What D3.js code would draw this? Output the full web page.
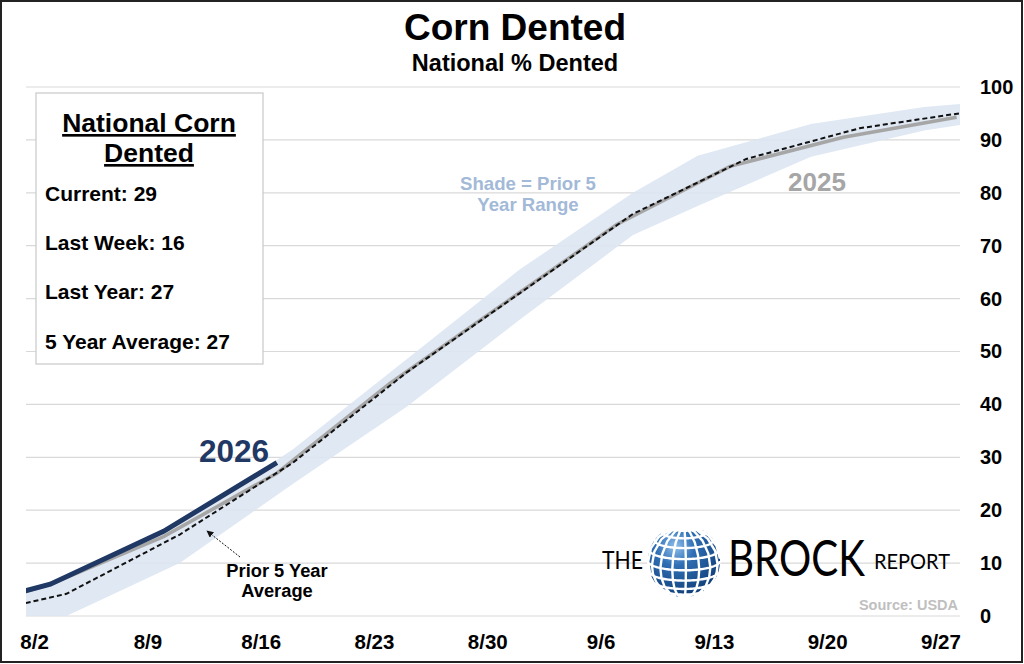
<!DOCTYPE html>
<html lang="en">
<head>
<meta charset="UTF-8">
<title>Corn Dented</title>
<script src="https://cdn.jsdelivr.net/npm/d3@7/dist/d3.min.js"></script>
<style>
  body { margin: 0; background: #fff; }
  svg text { font-family: "Liberation Sans", Arial, sans-serif; font-weight: bold; }
</style>
</head>
<body>
<svg width="1024" height="664"></svg>
<script>
// tick labels on the x axis (weekly)
var xLabels = ["8/2", "8/9", "8/16", "8/23", "8/30", "9/6", "9/13", "9/20", "9/27"];
var yTicks = [0, 10, 20, 30, 40, 50, 60, 70, 80, 90, 100];

// 2026 progress
var dates2026 = ["8/1", "8/3", "8/10", "8/17"];
var pct2026 = [4.4, 6, 16, 29];

// 2025 progress
var dates2025 = ["8/1", "8/3", "8/10", "8/17", "8/24", "8/31", "9/7", "9/14", "9/21", "9/28"];
var pct2025 = [4.2, 6, 15, 27, 44, 59, 74, 85, 90.5, 94.3];

// prior 5 year average
var datesAvg = ["8/1", "8/4", "8/11", "8/18", "8/25", "9/1", "9/8", "9/15", "9/22", "9/29"];
var pctAvg = [2.1, 4.2, 15.4, 29, 46, 61, 76, 86.4, 92.2, 95.4];

// prior 5 year range (shade)
var datesBand = ["8/1", "8/4", "8/11", "8/18", "8/25", "9/1", "9/8", "9/12", "9/19", "9/26", "9/29"];
var bandHigh = [4.5, 7.5, 17.5, 31.5, 48.5, 65.5, 80, 87, 93, 96.2, 97];
var bandLow = [0, 0, 10, 25, 39.5, 56, 72, 77.5, 86.8, 91.8, 93.2];

var summary = ["Current: 29", "Last Week: 16", "Last Year: 27", "5 Year Average: 27"];

var parse = function(s) {
    var p = s.split("/");
    return new Date(2026, +p[0] - 1, +p[1]);
};
var zip = function(ds, vs) {
    return ds.map(function(d, i) { return {date: parse(d), v: vs[i]}; });
};

var svg = d3.select("svg");
var plot = {left: 26, right: 960, top: 87, bottom: 616};

var x = d3.scaleTime()
    .domain([new Date(2026, 7, 1, 12), new Date(2026, 8, 28, 5)])
    .range([plot.left, plot.right]);
var y = d3.scaleLinear().domain([0, 100]).range([plot.bottom, plot.top]);

// outer frame
svg.append("rect")
    .attr("x", 1).attr("y", 1).attr("width", 1021).attr("height", 661)
    .attr("fill", "#fff").attr("stroke", "#222").attr("stroke-width", 2);

svg.append("defs").append("clipPath").attr("id", "clip")
    .append("rect")
    .attr("x", plot.left).attr("y", 0)
    .attr("width", plot.right - plot.left).attr("height", 664);

// grid lines
svg.append("g").selectAll("line")
    .data(yTicks).enter().append("line")
    .attr("x1", plot.left).attr("x2", plot.right)
    .attr("y1", function(d) { return y(d); })
    .attr("y2", function(d) { return y(d); })
    .attr("stroke", "#d9d9d9").attr("stroke-width", 1.2);

var g = svg.append("g").attr("clip-path", "url(#clip)");

// shaded range
var band = datesBand.map(function(d, i) {
    return {date: parse(d), lo: bandLow[i], hi: bandHigh[i]};
});
g.append("path")
    .datum(band)
    .attr("fill", "#dce6f2").attr("fill-opacity", 0.9)
    .attr("d", d3.area()
        .x(function(d) { return x(d.date); })
        .y0(function(d) { return y(d.lo); })
        .y1(function(d) { return y(d.hi); }));

var line = d3.line()
    .x(function(d) { return x(d.date); })
    .y(function(d) { return y(d.v); });

g.append("path").datum(zip(dates2025, pct2025))
    .attr("fill", "none").attr("stroke", "#a6a6a6").attr("stroke-width", 3.5)
    .attr("d", line);

g.append("path").datum(zip(datesAvg, pctAvg))
    .attr("fill", "none").attr("stroke", "#111").attr("stroke-width", 2)
    .attr("stroke-dasharray", "5,3")
    .attr("d", line);

g.append("path").datum(zip(dates2026, pct2026))
    .attr("fill", "none").attr("stroke", "#1f3864").attr("stroke-width", 5)
    .attr("d", line);

// axes
var yAxis = svg.append("g")
    .attr("transform", "translate(974,0)")
    .call(d3.axisRight(y).tickValues(yTicks).tickSize(0).tickPadding(6));
yAxis.select(".domain").remove();
yAxis.selectAll("text")
    .attr("font-size", 20).attr("fill", "#000")
    .style("font-family", "Liberation Sans, Arial, sans-serif");

var xAxis = svg.append("g")
    .attr("transform", "translate(0," + plot.bottom + ")")
    .call(d3.axisBottom(x).tickValues(xLabels.map(parse)).tickSize(0)
        .tickFormat(function(d, i) { return xLabels[i]; }));
xAxis.select(".domain").remove();
xAxis.selectAll("text")
    .attr("y", 33).attr("dy", 0)
    .attr("font-size", 20.5).attr("fill", "#000")
    .style("font-family", "Liberation Sans, Arial, sans-serif");

// titles
svg.append("text").attr("x", 515).attr("y", 40)
    .attr("text-anchor", "middle").attr("font-size", 37)
    .text("Corn Dented");
svg.append("text").attr("x", 515).attr("y", 71)
    .attr("text-anchor", "middle").attr("font-size", 23.5)
    .text("National % Dented");

// summary box
svg.append("rect")
    .attr("x", 36).attr("y", 93).attr("width", 227).attr("height", 271)
    .attr("fill", "#fff").attr("stroke", "#c8c8c8").attr("stroke-width", 1.2);
svg.append("text").attr("x", 149).attr("y", 132)
    .attr("text-anchor", "middle").attr("font-size", 26.5)
    .attr("text-decoration", "underline")
    .text("National Corn");
svg.append("text").attr("x", 149).attr("y", 162)
    .attr("text-anchor", "middle").attr("font-size", 26.5)
    .attr("text-decoration", "underline")
    .text("Dented");
svg.append("g").selectAll("text")
    .data(summary).enter().append("text")
    .attr("x", 45)
    .attr("y", function(d, i) { return 201 + i * 49.2; })
    .attr("font-size", 21)
    .text(function(d) { return d; });

// series labels
svg.append("text").attr("x", 234).attr("y", 462)
    .attr("text-anchor", "middle").attr("font-size", 31.5).attr("fill", "#1f3864")
    .text("2026");
svg.append("text").attr("x", 817).attr("y", 191)
    .attr("text-anchor", "middle").attr("font-size", 26).attr("fill", "#a6a6a6")
    .text("2025");
svg.append("text").attr("x", 528).attr("y", 190)
    .attr("text-anchor", "middle").attr("font-size", 18.6).attr("fill", "#a3b9d8")
    .text("Shade = Prior 5");
svg.append("text").attr("x", 528).attr("y", 211)
    .attr("text-anchor", "middle").attr("font-size", 18.6).attr("fill", "#a3b9d8")
    .text("Year Range");

// annotation for average
svg.select("defs").append("marker")
    .attr("id", "arrow").attr("viewBox", "0 0 10 10")
    .attr("refX", 9).attr("refY", 5)
    .attr("markerWidth", 7).attr("markerHeight", 7)
    .attr("orient", "auto")
    .append("path").attr("d", "M0,0L10,5L0,10z").attr("fill", "#111");
svg.append("line")
    .attr("x1", 240).attr("y1", 557).attr("x2", 207).attr("y2", 531)
    .attr("stroke", "#111").attr("stroke-width", 1)
    .attr("stroke-dasharray", "2,1.5")
    .attr("marker-end", "url(#arrow)");
svg.append("text").attr("x", 277).attr("y", 577)
    .attr("text-anchor", "middle").attr("font-size", 18.3)
    .text("Prior 5 Year");
svg.append("text").attr("x", 277).attr("y", 597)
    .attr("text-anchor", "middle").attr("font-size", 18.3)
    .text("Average");

svg.append("text").attr("x", 958).attr("y", 610)
    .attr("text-anchor", "end").attr("font-size", 14.5).attr("fill", "#bfbfbf")
    .text("Source: USDA");

// logo words, squeezed to the logo's widths
var logo = svg.append("g");
var logoWords = [
    {t: "THE", x: 602, y: 569, size: 25, w: 41},
    {t: "BROCK", x: 728, y: 576, size: 51, w: 137},
    {t: "REPORT", x: 874, y: 569, size: 21, w: 76}
];
logoWords.forEach(function(d) {
    var gw = logo.append("g").attr("transform", "translate(" + d.x + "," + d.y + ")");
    var t = gw.append("text").attr("font-size", d.size)
        .style("font-weight", "normal")
        .style("font-family", "Lato, 'Open Sans', sans-serif")
        .text(d.t);
    var len = t.node().getComputedTextLength();
    gw.attr("transform", "translate(" + d.x + "," + d.y + ") scale(" + (d.w / len) + ",1)");
});

var grad = svg.select("defs").append("radialGradient")
    .attr("id", "globe").attr("cx", "38%").attr("cy", "30%").attr("r", "75%");
grad.append("stop").attr("offset", "0%").attr("stop-color", "#8fc0ec");
grad.append("stop").attr("offset", "35%").attr("stop-color", "#2f6fb4");
grad.append("stop").attr("offset", "100%").attr("stop-color", "#0d3a73");

var proj = d3.geoOrthographic().scale(36).translate([684, 561]).rotate([25, -15, 0]);
var geo = d3.geoPath(proj);
logo.append("path").datum({type: "Sphere"})
    .attr("d", geo).attr("fill", "url(#globe)");
logo.append("path").datum(d3.geoGraticule().step([22, 18])())
    .attr("d", geo).attr("fill", "none")
    .attr("stroke", "#fff").attr("stroke-width", 2.4);
</script>
</body>
</html>
